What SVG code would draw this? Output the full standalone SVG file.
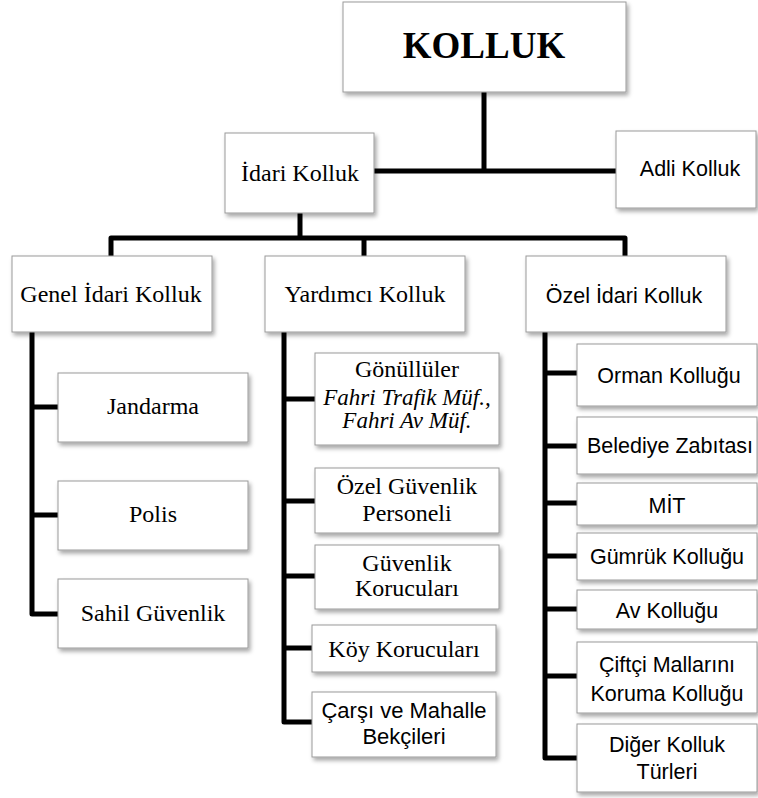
<svg xmlns="http://www.w3.org/2000/svg" width="758" height="798" viewBox="0 0 758 798">
<defs>
<filter id="sh" x="-10%" y="-10%" width="130%" height="140%">
<feDropShadow dx="2" dy="3" stdDeviation="2" flood-color="#000" flood-opacity="0.35"/>
</filter>
<style>
.box{fill:#fff;stroke:#9a9a9a;stroke-width:1;filter:url(#sh)}
.serif{font-family:"Liberation Serif","Times New Roman",serif;fill:#000;text-anchor:middle;font-size:24px}
.sans{font-family:"Liberation Sans",Arial,sans-serif;fill:#000;text-anchor:middle;font-size:21.5px}
.it{font-style:italic;font-size:23px}
.con{fill:none;stroke:#000;stroke-width:5;stroke-linejoin:round}
</style>
</defs>
<rect width="758" height="798" fill="#fff"/>
<g id="connectors">
<path class="con" d="M484 92 V171 M374 171 H616"/>
<path class="con" d="M300 213 V238 M111 256 V238 H625 V256 M364 238 V256"/>
<path class="con" d="M32 332 V614 H58 M32 407 H58 M32 515 H58"/>
<path class="con" d="M284 332 V722 H312 M284 399 H315 M284 501 H315 M284 576 H315 M284 648 H312"/>
<path class="con" d="M545 332 V758 H577 M545 373 H577 M545 446 H577 M545 503 H577 M545 556 H577 M545 609 H577 M545 676 H577"/>
</g>
<g id="kolluk"><rect class="box" x="343" y="2" width="283" height="90"/><text class="serif" x="484" y="58" style="font-size:37px" font-weight="bold">KOLLUK</text></g>
<g id="idari"><rect class="box" x="225" y="133" width="149" height="80"/><text class="serif" x="300" y="181">İdari Kolluk</text></g>
<g id="adli"><rect class="box" x="616" y="131" width="140" height="77"/><text class="sans" x="690" y="176">Adli Kolluk</text></g>
<g id="genel"><rect class="box" x="12" y="256" width="200" height="76"/><text class="serif" x="111" y="302">Genel İdari Kolluk</text></g>
<g id="yardimci"><rect class="box" x="265" y="256" width="200" height="76"/><text class="serif" x="365" y="302">Yardımcı Kolluk</text></g>
<g id="ozel"><rect class="box" x="526" y="256" width="200" height="76"/><text class="sans" x="624" y="303">Özel İdari Kolluk</text></g>
<g id="jandarma"><rect class="box" x="58" y="373" width="190" height="69"/><text class="serif" x="153" y="414">Jandarma</text></g>
<g id="polis"><rect class="box" x="58" y="481" width="190" height="69"/><text class="serif" x="153" y="522">Polis</text></g>
<g id="sahil"><rect class="box" x="58" y="579" width="190" height="69"/><text class="serif" x="153" y="621">Sahil Güvenlik</text></g>
<g id="gonulluler"><rect class="box" x="315" y="353" width="184" height="92"/><text class="serif" x="407" y="377">Gönüllüler</text><text class="serif it" x="407" y="405">Fahri Trafik Müf.,</text><text class="serif it" x="407" y="428">Fahri Av Müf.</text></g>
<g id="ozelguvenlik"><rect class="box" x="315" y="468" width="184" height="65"/><text class="serif" x="407" y="494">Özel Güvenlik</text><text class="serif" x="407" y="521">Personeli</text></g>
<g id="guvenlikkorucu"><rect class="box" x="315" y="545" width="184" height="64"/><text class="serif" x="407" y="571">Güvenlik</text><text class="serif" x="407" y="596">Korucuları</text></g>
<g id="koykorucu"><rect class="box" x="312" y="625" width="184" height="47"/><text class="serif" x="404" y="657">Köy Korucuları</text></g>
<g id="carsi"><rect class="box" x="312" y="692" width="184" height="65"/><text class="sans" x="404" y="718" style="font-size:22px">Çarşı ve Mahalle</text><text class="sans" x="404" y="744" style="font-size:22px">Bekçileri</text></g>
<g id="orman"><rect class="box" x="577" y="344" width="180" height="62"/><text class="sans" x="669" y="383">Orman Kolluğu</text></g>
<g id="belediye"><rect class="box" x="577" y="417" width="180" height="57"/><text class="sans" x="670" y="453">Belediye Zabıtası</text></g>
<g id="mit"><rect class="box" x="577" y="483" width="180" height="42"/><text class="sans" x="667" y="513">MİT</text></g>
<g id="gumruk"><rect class="box" x="577" y="533" width="180" height="47"/><text class="sans" x="667" y="564">Gümrük Kolluğu</text></g>
<g id="av"><rect class="box" x="577" y="590" width="180" height="39"/><text class="sans" x="667" y="618">Av Kolluğu</text></g>
<g id="ciftci"><rect class="box" x="577" y="642" width="180" height="71"/><text class="sans" x="667" y="672">Çiftçi Mallarını</text><text class="sans" x="667" y="701">Koruma Kolluğu</text></g>
<g id="diger"><rect class="box" x="577" y="724" width="180" height="68"/><text class="sans" x="667" y="752">Diğer Kolluk</text><text class="sans" x="667" y="779">Türleri</text></g>
</svg>
